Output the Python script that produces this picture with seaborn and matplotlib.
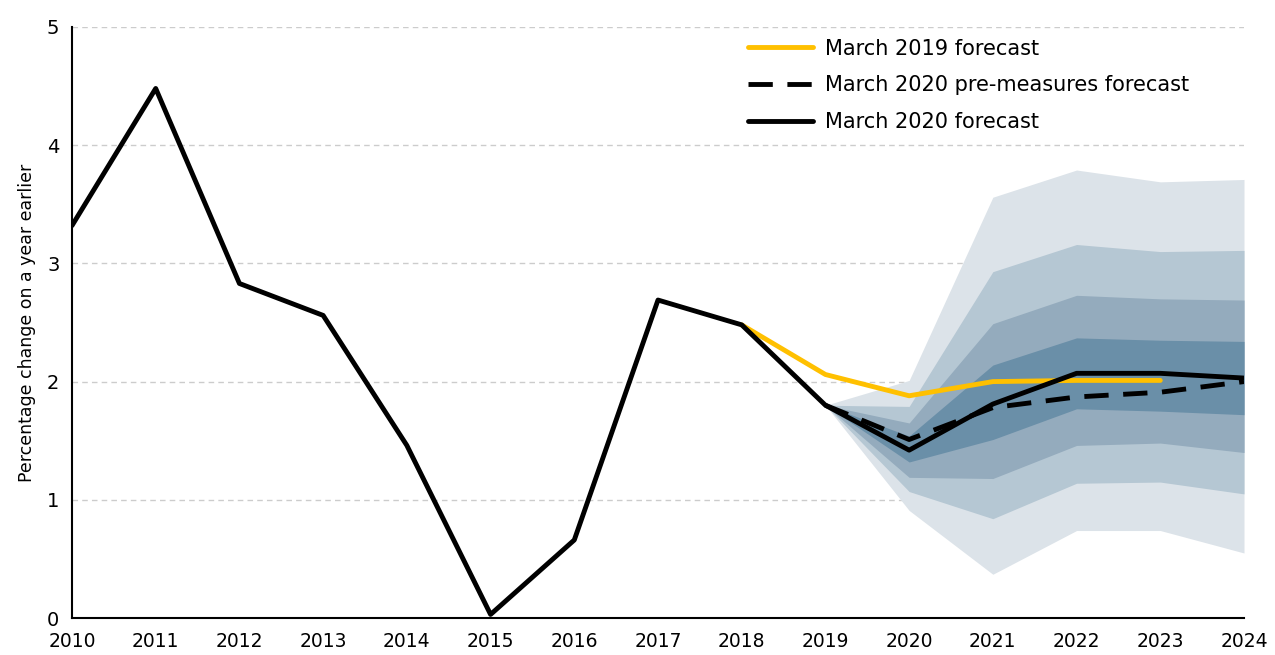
import numpy as np
import pandas as pd
import matplotlib
matplotlib.use("Agg")
import matplotlib.pyplot as plt
import seaborn as sns

# ---- data ----
years_hist = [2010, 2011, 2012, 2013, 2014, 2015, 2016, 2017, 2018, 2019, 2020, 2021, 2022, 2023, 2024]
mar2020 = [3.32, 4.48, 2.83, 2.56, 1.46, 0.03, 0.66, 2.69, 2.48, 1.80, 1.42, 1.81, 2.07, 2.07, 2.03]

years_2019 = [2018, 2019, 2020, 2021, 2022, 2023]
mar2019 = [2.48, 2.06, 1.88, 2.00, 2.01, 2.01]

years_pre = [2019, 2020, 2021, 2022, 2023, 2024]
pre_measures = [1.80, 1.51, 1.78, 1.87, 1.91, 2.00]

fan_years = [2019, 2020, 2021, 2022, 2023, 2024]
p10 = [1.80, 0.91, 0.37, 0.74, 0.74, 0.55]
p20 = [1.80, 1.07, 0.84, 1.14, 1.15, 1.05]
p30 = [1.80, 1.19, 1.18, 1.46, 1.48, 1.40]
p40 = [1.80, 1.32, 1.51, 1.77, 1.75, 1.72]
p60 = [1.80, 1.54, 2.14, 2.37, 2.35, 2.34]
p70 = [1.80, 1.65, 2.49, 2.73, 2.70, 2.69]
p80 = [1.80, 1.79, 2.93, 3.16, 3.10, 3.11]
p90 = [1.80, 2.01, 3.56, 3.79, 3.69, 3.71]

y_ticks = [0, 1, 2, 3, 4, 5]
x_ticks = list(range(2010, 2025))

# ---- plot ----
sns.set_style("white")
plt.rcParams["font.family"] = ["DejaVu Sans"]
plt.rcParams["text.color"] = "black"
plt.rcParams["axes.labelcolor"] = "black"
plt.rcParams["xtick.color"] = "black"
plt.rcParams["ytick.color"] = "black"

fig = plt.figure(figsize=(12.75, 6.55), dpi=100)
ax = fig.add_axes([72 / 1275, 37 / 655, (1244 - 72) / 1275, (618 - 27) / 655])

band_colors = ["#dce3e9", "#b5c7d3", "#94abbd", "#6a8fa8"]
pairs = [(p10, p90), (p20, p80), (p30, p70), (p40, p60)]
for (lo, hi), c in zip(pairs, band_colors):
    ax.fill_between(fan_years, lo, hi, color=c, linewidth=0, zorder=1)

for y in y_ticks[1:]:
    ax.axhline(y, color="#cccccc", linestyle=(0, (4, 3)), linewidth=1, zorder=0)

sns.lineplot(x=years_2019, y=mar2019, ax=ax, color="#ffc000", linewidth=3.5,
             label="March 2019 forecast", zorder=3)
sns.lineplot(x=years_pre, y=pre_measures, ax=ax, color="black", linewidth=3.5,
             linestyle=(0, (5, 3)), label="March 2020 pre-measures forecast", zorder=4)
sns.lineplot(x=years_hist, y=mar2020, ax=ax, color="black", linewidth=3.5,
             label="March 2020 forecast", zorder=5)

ax.set_xlim(2010, 2024)
ax.set_ylim(0, 5)
ax.set_xticks(x_ticks)
ax.set_xticklabels([str(x) for x in x_ticks], fontsize=13.5)
ax.set_yticks(y_ticks)
ax.set_yticklabels([str(y) for y in y_ticks], fontsize=14)
ax.tick_params(axis="both", direction="out", length=6, width=1, color="black", pad=3)
ax.tick_params(axis="x", pad=4)

for side in ["top", "right"]:
    ax.spines[side].set_visible(False)
for side in ["left", "bottom"]:
    ax.spines[side].set_color("black")
    ax.spines[side].set_linewidth(1.5)

ax.set_ylabel("Percentage change on a year earlier", fontsize=12.5, labelpad=8)
ax.set_xlabel("")

leg = ax.legend(loc="upper left", bbox_to_anchor=(0.561, 1.012), frameon=False,
                fontsize=15, handlelength=3.1, handletextpad=0.6, labelspacing=0.8)

fig.savefig("out.png", dpi=100)
